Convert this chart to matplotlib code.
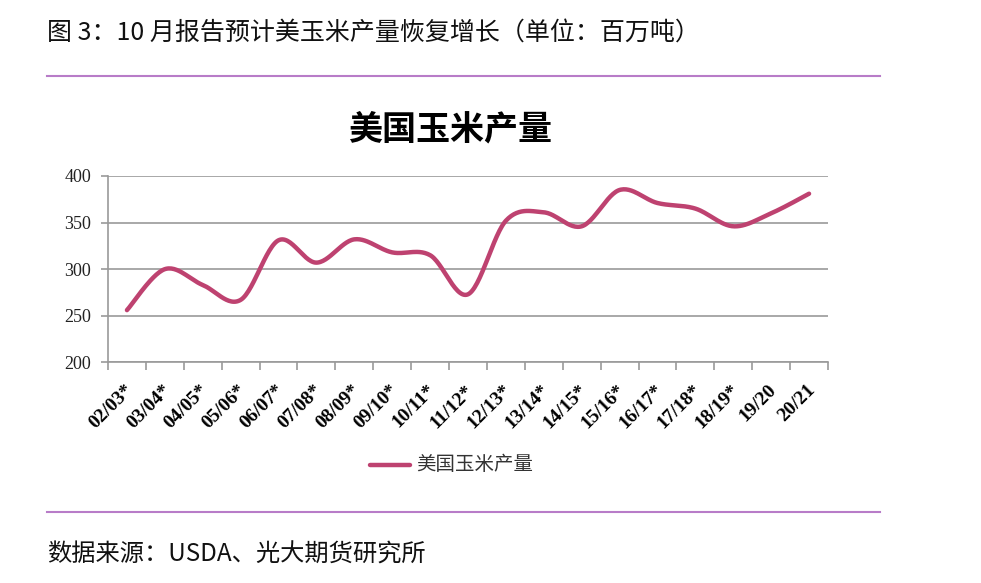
import numpy as np
import matplotlib
matplotlib.use("Agg")
import matplotlib.pyplot as plt
from matplotlib.lines import Line2D
import matplotlib.transforms as mtransforms

plt.rcParams['font.family'] = ['Noto Sans CJK SC', 'DejaVu Sans']

categories = ["02/03*", "03/04*", "04/05*", "05/06*", "06/07*", "07/08*", "08/09*",
              "09/10*", "10/11*", "11/12*", "12/13*", "13/14*", "14/15*", "15/16*",
              "16/17*", "17/18*", "18/19*", "19/20", "20/21"]
production = [256, 300, 283, 267, 331, 307, 332, 318, 315, 273, 352, 361, 346, 385,
              371, 365, 346, 360, 381]
yticks = [200, 250, 300, 350, 400]
series_name = "美国玉米产量"
fig_title = "图 3：10 月报告预计美玉米产量恢复增长（单位：百万吨）"
chart_title = "美国玉米产量"
source = "数据来源：USDA、光大期货研究所"

line_color = "#be4270"
purple = "#b87cc8"

fig = plt.figure(figsize=(9.81, 5.83), dpi=100)
ax = fig.add_axes([108/981, 1-362.3/583, (828-108)/981, (362.3-176)/583])

# Catmull-Rom smoothing through data points (similar to Excel smoothed line)
x = np.arange(len(production), dtype=float)
y = np.array(production, dtype=float)
xs, ys = [], []
n = len(x)
for i in range(n - 1):
    p0 = np.array([x[max(i-1, 0)], y[max(i-1, 0)]])
    p1 = np.array([x[i], y[i]])
    p2 = np.array([x[i+1], y[i+1]])
    p3 = np.array([x[min(i+2, n-1)], y[min(i+2, n-1)]])
    c1 = p1 + (p2 - p0) / 6.0
    c2 = p2 - (p3 - p1) / 6.0
    t = np.linspace(0, 1, 30)[:, None]
    pts = ((1-t)**3)*p1 + 3*((1-t)**2)*t*c1 + 3*(1-t)*(t**2)*c2 + (t**3)*p2
    xs.extend(pts[:, 0]); ys.extend(pts[:, 1])
ax.plot(xs, ys, color=line_color, lw=3.2, solid_capstyle='round', zorder=3)

ax.set_xlim(-0.5, len(categories) - 0.5)
ax.set_ylim(200, 400)
ax.set_yticks(yticks)
ax.set_yticklabels([str(v) for v in yticks], family='Liberation Serif', fontsize=13,
                   color='#222222')
ax.yaxis.grid(True, color='#9a9a9a', lw=1.2)
ax.set_axisbelow(True)
ax.tick_params(axis='y', length=5, color='#9a9a9a', width=1.2, pad=7)

ax.set_xticks(np.arange(len(categories)))
ax.set_xticklabels(categories, rotation=45, ha='right', va='top', rotation_mode='anchor',
                   family='Liberation Serif', fontweight='bold', fontsize=14)
ax.tick_params(axis='x', length=0, pad=14)
offset = mtransforms.ScaledTranslation(-3/100, 0, fig.dpi_scale_trans)
for lab in ax.get_xticklabels():
    lab.set_transform(lab.get_transform() + offset)
ax.set_xticks(np.arange(len(categories) + 1) - 0.5, minor=True)
ax.tick_params(axis='x', which='minor', length=6, color='#9a9a9a', width=1.2)

for s in ['top', 'right']:
    ax.spines[s].set_visible(False)
for s in ['left', 'bottom']:
    ax.spines[s].set_color('#9a9a9a')
    ax.spines[s].set_linewidth(1.2)

fig.text(47/981, 1-33/583, fig_title, fontsize=18, va='center', ha='left', color='#111111')
fig.add_artist(Line2D([47/981, 880/981], [1-76/583, 1-76/583], color=purple, lw=1.5))
fig.text(450/981, 1-129/583, chart_title, fontsize=24.5, fontweight='bold', ha='center',
         va='center')

fig.add_artist(Line2D([370/981, 410/981], [1-465/583, 1-465/583], color=line_color, lw=3.2,
                      solid_capstyle='round'))
fig.text(416/981, 1-465/583, series_name, fontsize=14, ha='left', va='center', color='#333333')

fig.add_artist(Line2D([47/981, 880/981], [1-512/583, 1-512/583], color=purple, lw=1.5))
fig.text(47/981, 1-555/583, source, fontsize=17.5, va='center', ha='left', color='#111111')

fig.savefig("out.png", dpi=100)
